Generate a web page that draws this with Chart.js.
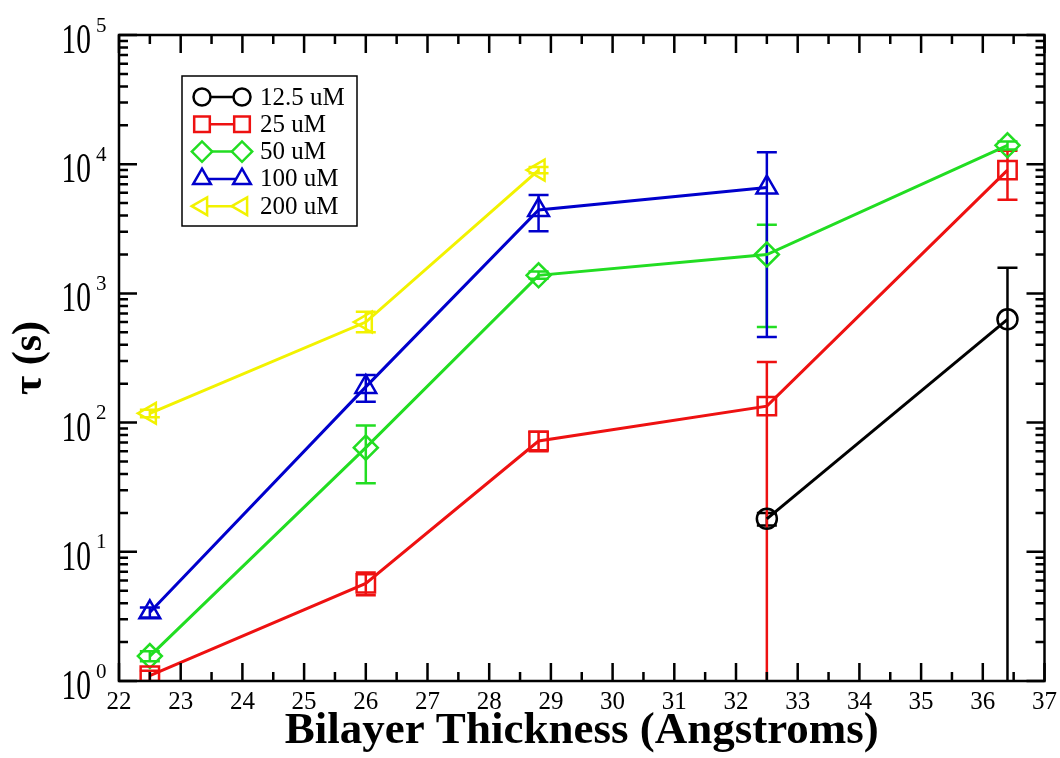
<!DOCTYPE html>
<html>
<head>
<meta charset="utf-8">
<script src="https://cdn.jsdelivr.net/npm/chart.js@4.4.1/dist/chart.umd.min.js"></script>
<style>
  html, body { margin: 0; background: #fff; }
  #wrap { width: 1060px; height: 758px; }
</style>
</head>
<body>
<div id="wrap"><canvas id="c"></canvas></div>
<script>
// bilayer thickness (Angstroms)
const thickness = [22.5, 26, 28.8, 32.5, 36.4];
const seriesNames = ['12.5 uM', '25 uM', '50 uM', '100 uM', '200 uM'];

// tau (s), null = no point
const tau12 = [null, null, null, 18, 630];
const tau25 = [1.1, 5.7, 72, 134, 9000];
const tau50 = [1.56, 64, 1380, 2000, 14000];
const tau100 = [3.4, 189, 4420, 6600, null];
const tau200 = [118, 600, 9000, null, null];

// error bar ends (0 = runs off the bottom of the log axis)
const lo12 = [null, null, null, 16, 0];
const hi12 = [null, null, null, 20, 1580];
const lo25 = [1.0, 4.6, 60, 0, 5300];
const hi25 = [1.2, 6.9, 85, 295, 12700];
const lo50 = [1.42, 34, 1300, 550, 13000];
const hi50 = [1.7, 95, 1480, 3400, 15000];
const lo100 = [3.1, 145, 3030, 460, null];
const hi100 = [3.7, 234, 5780, 12400, null];
const lo200 = [110, 500, 8500, null, null];
const hi200 = [126, 720, 9500, null, null];

const xTicks = [22, 23, 24, 25, 26, 27, 28, 29, 30, 31, 32, 33, 34, 35, 36, 37];
const yDecades = [0, 1, 2, 3, 4, 5];

const serif = '"Liberation Serif", "DejaVu Serif", serif';

const series = [
  { name: seriesNames[0], vals: tau12, lo: lo12, hi: hi12, color: '#000000', style: 'circle', r: 10, rot: 0 },
  { name: seriesNames[1], vals: tau25, lo: lo25, hi: hi25, color: '#ee1111', style: 'rect', r: 13, rot: 0 },
  { name: seriesNames[2], vals: tau50, lo: lo50, hi: hi50, color: '#22dd22', style: 'rectRot', r: 12, rot: 0 },
  { name: seriesNames[3], vals: tau100, lo: lo100, hi: hi100, color: '#0000cc', style: 'triangle', r: 12, rot: 0 },
  { name: seriesNames[4], vals: tau200, lo: lo200, hi: hi200, color: '#f2f200', style: 'triangle', r: 12, rot: 270 }
];

function toPoints(vals) {
  const pts = [];
  vals.forEach((v, i) => { if (v != null) pts.push({ x: thickness[i], y: v }); });
  return pts;
}

const errorBars = {
  id: 'errorBars',
  beforeDatasetsDraw(chart) {
    const { ctx, chartArea, scales: { x, y } } = chart;
    ctx.save();
    ctx.beginPath();
    ctx.rect(chartArea.left, chartArea.top, chartArea.width, chartArea.height);
    ctx.clip();
    ctx.lineWidth = 2.5;
    series.forEach(s => {
      ctx.strokeStyle = s.color;
      thickness.forEach((t, i) => {
        if (s.hi[i] == null) return;
        const px = x.getPixelForValue(t);
        const yh = y.getPixelForValue(s.hi[i]);
        const yl = s.lo[i] > 0 ? y.getPixelForValue(s.lo[i]) : chartArea.bottom;
        ctx.beginPath();
        ctx.moveTo(px, yl); ctx.lineTo(px, yh);
        ctx.moveTo(px - 10, yh); ctx.lineTo(px + 10, yh);
        if (s.lo[i] > 0) { ctx.moveTo(px - 10, yl); ctx.lineTo(px + 10, yl); }
        ctx.stroke();
      });
    });
    ctx.restore();
  }
};

const frame = {
  id: 'frame',
  afterDraw(chart) {
    const { ctx, chartArea: a, scales: { x, y } } = chart;
    ctx.save();
    ctx.strokeStyle = '#000';
    ctx.lineWidth = 2.5;
    ctx.strokeRect(a.left, a.top, a.right - a.left, a.bottom - a.top);
    ctx.beginPath();
    // x ticks, inward on bottom and top
    for (let v = 22; v <= 37; v += 0.5) {
      const px = x.getPixelForValue(v);
      const len = Number.isInteger(v) ? 18 : 9;
      ctx.moveTo(px, a.bottom); ctx.lineTo(px, a.bottom - len);
      ctx.moveTo(px, a.top); ctx.lineTo(px, a.top + len);
    }
    // y ticks, inward on left and right
    yDecades.forEach(k => {
      for (let m = 1; m <= 9; m++) {
        if (k === 5 && m > 1) break;
        const py = y.getPixelForValue(m * Math.pow(10, k));
        const len = m === 1 ? 18 : 9;
        ctx.moveTo(a.left, py); ctx.lineTo(a.left + len, py);
        ctx.moveTo(a.right, py); ctx.lineTo(a.right - len, py);
      }
    });
    ctx.stroke();

    // y tick labels 10^k (tall, narrow like the original)
    ctx.fillStyle = '#000';
    ctx.textBaseline = 'middle';
    yDecades.forEach(k => {
      const py = y.getPixelForValue(Math.pow(10, k));
      ctx.save();
      ctx.translate(91, py + 7);
      ctx.scale(0.7, 1);
      ctx.font = '42px ' + serif;
      ctx.textAlign = 'right';
      ctx.fillText('10', 0, 0);
      ctx.restore();
      ctx.font = '21px ' + serif;
      ctx.textAlign = 'left';
      ctx.fillText(String(k), 96, py - 9);
    });

    // legend box
    const bx = 182, by = 76, bw = 175, bh = 150;
    ctx.fillStyle = '#fff';
    ctx.fillRect(bx, by, bw, bh);
    ctx.strokeStyle = '#000';
    ctx.lineWidth = 1.5;
    ctx.strokeRect(bx, by, bw, bh);
    series.forEach((s, i) => {
      const cy = 97 + i * 27.3;
      ctx.strokeStyle = s.color;
      ctx.fillStyle = '#fff';
      ctx.lineWidth = 2.5;
      ctx.beginPath();
      ctx.moveTo(202, cy); ctx.lineTo(242, cy);
      ctx.stroke();
      [202, 242].forEach(cx => {
        Chart.helpers.drawPoint(ctx, {
          pointStyle: s.style, radius: s.r * 0.85, rotation: s.rot, borderWidth: 2.5
        }, cx, cy);
      });
      ctx.fillStyle = '#000';
      ctx.font = '25px ' + serif;
      ctx.textAlign = 'left';
      ctx.textBaseline = 'middle';
      ctx.fillText(s.name, 260, cy + 1);
    });
    ctx.restore();
  }
};

const datasets = series.map(s => ({
  label: s.name,
  data: toPoints(s.vals),
  borderColor: s.color,
  backgroundColor: 'rgba(0,0,0,0)',
  borderWidth: 3,
  pointStyle: s.style,
  pointRotation: s.rot,
  pointRadius: s.r,
  pointBorderWidth: 2.5,
  pointBorderColor: s.color,
  pointBackgroundColor: 'rgba(0,0,0,0)',
  tension: 0
}));

new Chart(document.getElementById('c'), {
  type: 'line',
  data: { datasets: datasets },
  options: {
    responsive: true,
    maintainAspectRatio: false,
    animation: false,
    layout: { padding: { top: 35, right: 15, left: 0, bottom: 0 } },
    plugins: { legend: { display: false }, tooltip: { enabled: false } },
    scales: {
      x: {
        type: 'linear',
        min: 22,
        max: 37,
        afterFit: (scale) => { scale.height = 77; },
        afterBuildTicks: (scale) => { scale.ticks = xTicks.map(v => ({ value: v })); },
        grid: { display: false },
        border: { display: false },
        ticks: { color: '#000', padding: -2, font: { family: serif, size: 25 } },
        title: {
          display: true,
          text: 'Bilayer Thickness (Angstroms)',
          color: '#000',
          font: { family: serif, size: 45, weight: 'bold' },
          padding: { top: 0, bottom: 0 }
        }
      },
      y: {
        type: 'logarithmic',
        min: 1,
        max: 100000,
        afterFit: (scale) => { scale.width = 119; },
        grid: { display: false },
        border: { display: false },
        ticks: { display: false },
        title: {
          display: true,
          text: 'τ (s)',
          color: '#000',
          font: { family: serif, size: 42, weight: 'bold' },
          padding: { top: 5, bottom: 0 }
        }
      }
    }
  },
  plugins: [errorBars, frame]
});
</script>
</body>
</html>
